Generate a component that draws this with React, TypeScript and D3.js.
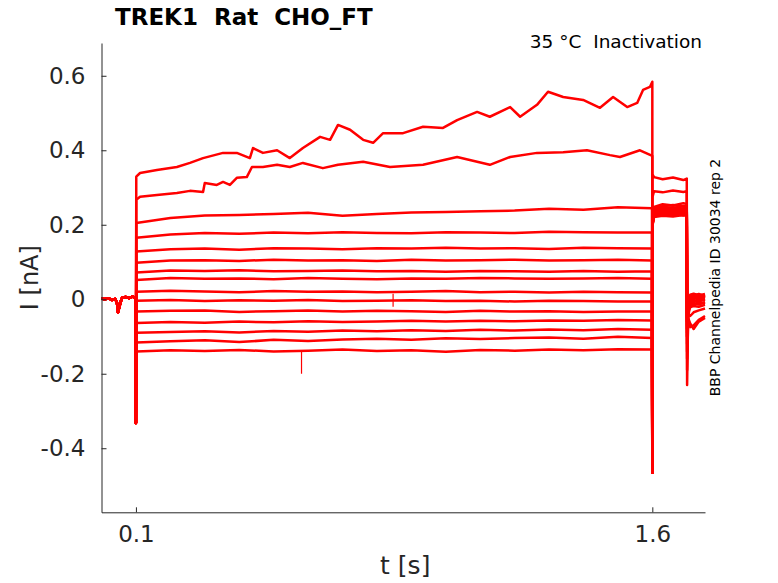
import {useEffect, useRef} from "react";
import * as d3 from "d3";

const SvgWidth = 778;
const SvgHeight = 583;

const traceColor = "#ff0000";
const axisColor = "#262626";

// holding current before the step
const preT = [0, 0.01, 0.02, 0.03, 0.04, 0.045, 0.048, 0.052, 0.056, 0.06, 0.07, 0.08, 0.09, 0.099];
const preI = [0.002, 0.0, 0.003, -0.002, 0.001, -0.01, -0.035, -0.02, -0.006, 0.004, 0.006, 0.003, 0.007, 0.004];

// capacitive transients
const onsetDip = -0.332;
const offsetDip = -0.466;

// top trace (largest step)
const trace1T = [0.101, 0.112, 0.161, 0.219, 0.257, 0.295, 0.353, 0.393, 0.431, 0.44, 0.469, 0.51, 0.547, 0.585, 0.635, 0.664, 0.687, 0.722, 0.76, 0.789, 0.818, 0.876, 0.934, 0.992, 1.033, 1.091, 1.128, 1.187, 1.216, 1.265, 1.297, 1.341, 1.399, 1.448, 1.486, 1.527, 1.556, 1.573, 1.593, 1.6];
const trace1I = [0.329, 0.339, 0.347, 0.355, 0.366, 0.379, 0.393, 0.393, 0.379, 0.406, 0.393, 0.4, 0.379, 0.406, 0.436, 0.428, 0.468, 0.455, 0.428, 0.42, 0.446, 0.446, 0.463, 0.46, 0.481, 0.503, 0.49, 0.516, 0.49, 0.522, 0.557, 0.543, 0.535, 0.514, 0.543, 0.516, 0.527, 0.562, 0.57, 0.584];

// second trace
const trace2T = [0.101, 0.112, 0.161, 0.219, 0.257, 0.295, 0.3, 0.335, 0.353, 0.373, 0.393, 0.422, 0.437, 0.469, 0.51, 0.547, 0.585, 0.643, 0.687, 0.76, 0.838, 0.934, 1.033, 1.128, 1.187, 1.265, 1.341, 1.41, 1.477, 1.506, 1.564, 1.6];
const trace2I = [0.267, 0.275, 0.28, 0.285, 0.291, 0.288, 0.312, 0.307, 0.315, 0.307, 0.326, 0.328, 0.355, 0.355, 0.361, 0.355, 0.366, 0.352, 0.361, 0.369, 0.355, 0.361, 0.382, 0.361, 0.382, 0.393, 0.395, 0.4, 0.387, 0.382, 0.4, 0.385];

// the other traces, read every 0.1 s
const flatT = [0.101, 0.2, 0.3, 0.4, 0.5, 0.6, 0.7, 0.8, 0.9, 1.0, 1.1, 1.2, 1.3, 1.4, 1.5, 1.599];
const flatTraces = [
    [0.205, 0.218, 0.225, 0.226, 0.229, 0.232, 0.224, 0.229, 0.233, 0.234, 0.236, 0.238, 0.243, 0.24, 0.247, 0.244],
    [0.165, 0.174, 0.178, 0.176, 0.179, 0.177, 0.18, 0.178, 0.177, 0.18, 0.179, 0.178, 0.181, 0.18, 0.179, 0.18],
    [0.128, 0.134, 0.136, 0.133, 0.137, 0.136, 0.134, 0.137, 0.136, 0.138, 0.136, 0.137, 0.135, 0.138, 0.137, 0.136],
    [0.098, 0.104, 0.105, 0.103, 0.106, 0.104, 0.105, 0.103, 0.106, 0.104, 0.105, 0.106, 0.104, 0.105, 0.106, 0.104],
    [0.072, 0.077, 0.076, 0.078, 0.075, 0.076, 0.077, 0.075, 0.076, 0.074, 0.076, 0.075, 0.074, 0.076, 0.074, 0.075],
    [0.052, 0.057, 0.055, 0.056, 0.054, 0.057, 0.055, 0.054, 0.056, 0.055, 0.057, 0.056, 0.055, 0.056, 0.057, 0.055],
    [0.02, 0.023, 0.021, 0.019, 0.022, 0.02, 0.021, 0.019, 0.02, 0.022, 0.019, 0.02, 0.018, 0.02, 0.019, 0.018],
    [-0.004, -0.002, -0.005, -0.003, -0.004, -0.002, -0.005, -0.004, -0.003, -0.005, -0.004, -0.006, -0.004, -0.005, -0.006, -0.006],
    [-0.033, -0.031, -0.03, -0.034, -0.032, -0.03, -0.033, -0.031, -0.032, -0.034, -0.031, -0.033, -0.032, -0.034, -0.033, -0.033],
    [-0.064, -0.061, -0.063, -0.06, -0.062, -0.059, -0.061, -0.06, -0.058, -0.06, -0.058, -0.059, -0.057, -0.058, -0.056, -0.057],
    [-0.09, -0.088, -0.086, -0.089, -0.085, -0.087, -0.084, -0.086, -0.083, -0.085, -0.082, -0.084, -0.081, -0.083, -0.08, -0.082],
    [-0.116, -0.113, -0.11, -0.115, -0.109, -0.112, -0.108, -0.106, -0.109, -0.105, -0.107, -0.104, -0.103, -0.106, -0.101, -0.104],
    [-0.14, -0.137, -0.139, -0.136, -0.14, -0.138, -0.135, -0.139, -0.137, -0.141, -0.136, -0.138, -0.135, -0.137, -0.134, -0.135],
];

// after the step: 1.6 - 1.7 s
const tailT = [1.6005, 1.605, 1.63, 1.66, 1.69, 1.7];
const tailTraces = [
    [0.335, 0.328, 0.322, 0.327, 0.32, 0.324],
    [0.275, 0.29, 0.287, 0.292, 0.288, 0.29],
    [0.215, 0.248, 0.255, 0.252, 0.258, 0.256],
    [0.212, 0.244, 0.25, 0.253, 0.249, 0.252],
    [0.21, 0.241, 0.247, 0.245, 0.25, 0.248],
    [0.208, 0.238, 0.244, 0.247, 0.243, 0.246],
    [0.206, 0.236, 0.241, 0.239, 0.244, 0.242],
    [0.205, 0.234, 0.239, 0.242, 0.238, 0.24],
    [0.204, 0.232, 0.236, 0.234, 0.238, 0.236],
    [0.203, 0.23, 0.234, 0.237, 0.233, 0.235],
    [0.202, 0.228, 0.232, 0.23, 0.234, 0.232],
    [0.201, 0.226, 0.23, 0.233, 0.229, 0.231],
    [0.2, 0.225, 0.228, 0.226, 0.23, 0.228],
    [0.2, 0.223, 0.226, 0.229, 0.225, 0.227],
    [0.198, 0.221, 0.224, 0.222, 0.226, 0.224],
];

// return to holding after 1.7 s
const endT = [1.701, 1.704, 1.71, 1.72, 1.735, 1.753];
const endTraces = [
    [-0.23, -0.04, -0.005, 0.008, 0.004, 0.01],
    [-0.19, -0.05, -0.012, 0.003, 0.008, 0.005],
    [-0.16, -0.03, 0.012, 0.015, 0.01, 0.014],
    [-0.14, -0.02, 0.008, 0.012, 0.006, 0.01],
    [-0.12, -0.025, 0.004, 0.01, 0.014, 0.008],
    [-0.1, -0.02, 0.0, 0.006, 0.002, 0.006],
    [-0.09, -0.015, -0.004, 0.002, 0.008, 0.003],
    [-0.08, -0.03, -0.008, -0.002, -0.006, 0.0],
    [-0.07, -0.02, -0.012, -0.006, 0.0, -0.004],
    [-0.06, -0.025, -0.015, -0.01, -0.014, -0.008],
    [-0.05, -0.03, -0.018, -0.014, -0.008, -0.012],
    [-0.05, -0.035, -0.022, -0.018, -0.02, -0.015],
    [-0.06, -0.04, -0.045, -0.035, -0.03, -0.025],
    [-0.08, -0.05, -0.065, -0.08, -0.06, -0.05],
    [-0.1, -0.06, -0.075, -0.07, -0.055, -0.045],
];

// short glitches: time, from, to
const glitchT = [0.581, 0.847];
const glitchFrom = [-0.14, 0.015];
const glitchTo = [-0.2, -0.02];

const yTicks = [-0.4, -0.2, 0, 0.2, 0.4, 0.6];
const yTickLabels = ["-0.4", "-0.2", "0", "0.2", "0.4", "0.6"];
const xTicks = [0.1, 1.6];
const xTickLabels = ["0.1", "1.6"];

const plotLeft = 101.5;
const plotRight = 705;
const plotTop = 43;
const plotBottom = 512.3;

const xScale = d3.scaleLinear().domain([0, 1.753]).range([plotLeft, plotRight]);
const yScale = d3.scaleLinear().domain([-0.572, 0.688]).range([plotBottom, plotTop]);

function stepPart(k) {
    if (k === 0) return trace1T.map((t, i) => [t, trace1I[i]]);
    if (k === 1) return trace2T.map((t, i) => [t, trace2I[i]]);
    return flatT.map((t, i) => [t, flatTraces[k - 2][i]]);
}

function buildTrace(k) {
    let pts = preT.map((t, i) => [t, preI[i]]);
    pts.push([0.1, onsetDip]);
    pts = pts.concat(stepPart(k));
    pts.push([1.6, offsetDip]);
    pts = pts.concat(tailT.map((t, i) => [t, tailTraces[k][i]]));
    pts = pts.concat(endT.map((t, i) => [t, endTraces[k][i]]));
    return pts;
}

const traceLine = d3.line()
    // @ts-ignore
    .x(d => xScale(d[0]))
    // @ts-ignore
    .y(d => yScale(d[1]));

function App() {
    const xAxisRef = useRef(null);
    const yAxisRef = useRef(null);

    useEffect(() => {
        let xAxisElm = d3.select(xAxisRef.current);
        let yAxisElm = d3.select(yAxisRef.current);

        xAxisElm.call(
            d3.axisBottom(xScale)
                .tickValues(xTicks)
                .tickSizeInner(-5)
                .tickSizeOuter(0)
                .tickPadding(13)
                // @ts-ignore
                .tickFormat((d, i) => xTickLabels[i])
        );
        yAxisElm.call(
            d3.axisLeft(yScale)
                .tickValues(yTicks)
                .tickSizeInner(-5)
                .tickSizeOuter(0)
                .tickPadding(16)
                // @ts-ignore
                .tickFormat((d, i) => yTickLabels[i])
        );

        [xAxisElm, yAxisElm].forEach(elm => {
            elm.select(".domain").attr("stroke", axisColor).attr("stroke-width", 1);
            elm.selectAll(".tick line").attr("stroke", axisColor).attr("stroke-width", 1);
            elm.selectAll(".tick text")
                .attr("fill", axisColor)
                .style("font-family", "DejaVu Sans")
                .style("font-size", "23px");
        });
    }, []);

    const traces = tailTraces.map((_, k) => buildTrace(k));

    return (
        <div>
            <svg width={SvgWidth} height={SvgHeight}
                 style={{position: "absolute", left: 0, top: 0, background: "#fff"}}
                 fontFamily="DejaVu Sans">
                <g>
                    {traces.map((pts, k) => (
                        <path
                            key={k}
                            // @ts-ignore
                            d={traceLine(pts)}
                            fill="none"
                            stroke={traceColor}
                            strokeWidth={2.5}
                            strokeLinejoin="round"
                        />
                    ))}
                    {glitchT.map((t, i) => (
                        <line
                            key={"g" + i}
                            x1={xScale(t)} x2={xScale(t)}
                            y1={yScale(glitchFrom[i])} y2={yScale(glitchTo[i])}
                            stroke={traceColor}
                            strokeWidth={1.2}
                        />
                    ))}
                </g>

                <g ref={xAxisRef} transform={`translate(0,${plotBottom})`}></g>
                <g ref={yAxisRef} transform={`translate(${plotLeft},0)`}></g>

                <text x={115} y={25} fontSize={23} fontWeight="bold" fill="#000"
                      style={{whiteSpace: "pre"}}>
                    TREK1  Rat  CHO_FT
                </text>
                <text x={702} y={47.5} fontSize={18.5} fill="#000" textAnchor="end"
                      style={{whiteSpace: "pre"}}>
                    35 °C  Inactivation
                </text>
                <text x={(plotLeft + plotRight) / 2 + 2} y={574} fontSize={25} fill={axisColor}
                      textAnchor="middle">
                    t [s]
                </text>
                <text transform={`translate(38, ${(plotTop + plotBottom) / 2}) rotate(-90)`}
                      fontSize={24} fill={axisColor} textAnchor="middle">
                    I [nA]
                </text>
                <text transform={`translate(720, 277.5) rotate(-90)`}
                      fontSize={14} fill="#000" textAnchor="middle">
                    BBP Channelpedia ID 30034 rep 2
                </text>
            </svg>
        </div>
    );
}

export default App;
